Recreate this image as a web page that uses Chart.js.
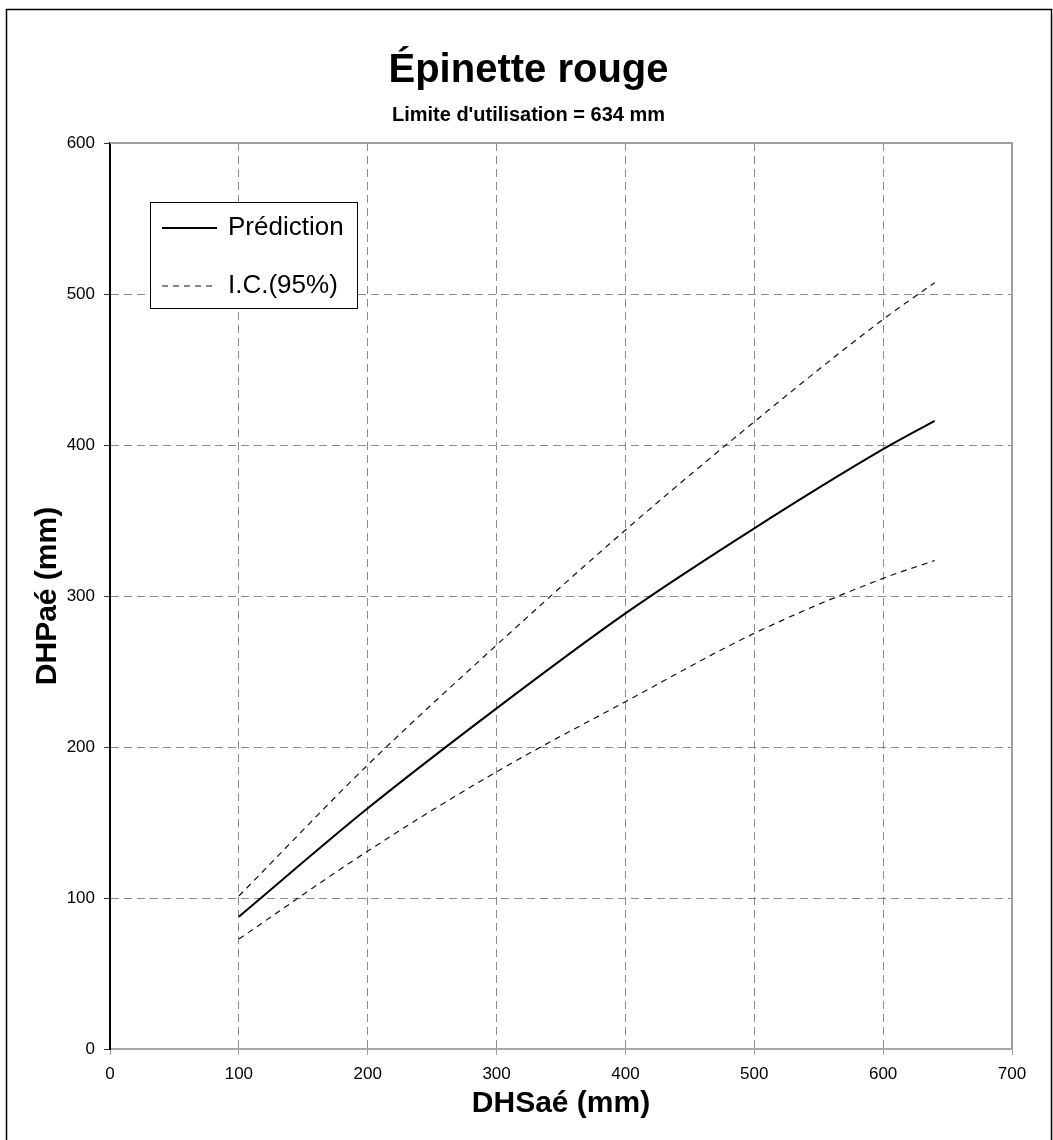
<!DOCTYPE html>
<html><head><meta charset="utf-8">
<script src="https://cdn.jsdelivr.net/npm/chart.js@4.4.1/dist/chart.umd.min.js"></script>
<style>html,body{margin:0;padding:0;background:#fff}#wrap{width:1053px;height:1140px;position:relative}</style>
</head><body><div id="wrap"><canvas id="c" width="1053" height="1140"></canvas></div>
<script>
const xValues = [100, 200, 300, 400, 500, 600, 640];
const prediction = [87.6, 159.4, 225.6, 288.5, 344.8, 397.2, 416.0];
const upperCI = [101.3, 188.1, 267.5, 343.7, 415.4, 483.2, 507.5];
const lowerCI = [72.8, 131.1, 183.6, 230.0, 275.3, 311.7, 323.5];
const seriesLabels = ['Prédiction', 'I.C.(95%)'];
const chartTitle = 'Épinette rouge';
const chartSubtitle = "Limite d'utilisation = 634 mm";
const xAxisTitle = 'DHSaé (mm)';
const yAxisTitle = 'DHPaé (mm)';

const FONT = '"Liberation Sans", Arial, sans-serif';
const toPts = ys => xValues.map((x, i) => ({x: x, y: ys[i]}));

const framePlugin = {
  id: 'frame',
  beforeDraw(chart) {
    const ctx = chart.ctx;
    ctx.save();
    ctx.fillStyle = '#fff';
    ctx.fillRect(0, 0, chart.width, chart.height);
    ctx.strokeStyle = '#000';
    ctx.lineWidth = 1.5;
    ctx.strokeRect(6.5, 9.5, 1045, 1150);
    ctx.restore();
  },
  beforeDatasetsDraw(chart) {
    const {ctx, chartArea: a} = chart;
    ctx.save();
    ctx.strokeStyle = '#a0a0a0';
    ctx.lineWidth = 2;
    ctx.beginPath();
    ctx.moveTo(a.left, a.top);
    ctx.lineTo(a.right, a.top);
    ctx.lineTo(a.right, a.bottom);
    ctx.stroke();
    ctx.restore();
  },
  afterDatasetsDraw(chart) {
    const ctx = chart.ctx;
    const ds = chart.data.datasets;
    ctx.save();
    ctx.fillStyle = '#fff';
    ctx.fillRect(150, 202, 208, 107);
    ctx.strokeStyle = '#000';
    ctx.lineWidth = 1;
    ctx.strokeRect(150.5, 202.5, 207, 106);
    const entries = [{d: ds[0], y: 228}, {d: ds[1], y: 286}];
    entries.forEach(e => {
      ctx.strokeStyle = e.d.borderColor;
      ctx.lineWidth = e.d.borderWidth;
      ctx.setLineDash(e.d.borderDash || []);
      ctx.beginPath();
      ctx.moveTo(162, e.y);
      ctx.lineTo(217, e.y);
      ctx.stroke();
      ctx.setLineDash([]);
      ctx.fillStyle = '#000';
      ctx.font = '26px ' + FONT;
      ctx.textBaseline = 'middle';
      ctx.textAlign = 'left';
      ctx.fillText(e.d.label, 228, e.y);
    });
    ctx.restore();
  }
};

new Chart(document.getElementById('c'), {
  type: 'line',
  data: {
    datasets: [
      {label: seriesLabels[0], data: toPts(prediction), borderColor: '#000', borderWidth: 2, pointRadius: 0, cubicInterpolationMode: 'monotone', fill: false},
      {label: seriesLabels[1], data: toPts(upperCI), borderColor: '#111', borderWidth: 1.2, borderDash: [6, 5], pointRadius: 0, cubicInterpolationMode: 'monotone', fill: false},
      {label: seriesLabels[1], data: toPts(lowerCI), borderColor: '#111', borderWidth: 1.2, borderDash: [6, 5], pointRadius: 0, cubicInterpolationMode: 'monotone', fill: false}
    ]
  },
  options: {
    responsive: false,
    animation: false,
    devicePixelRatio: 1,
    layout: {padding: {left: 4, right: 0, top: 0, bottom: 0}},
    plugins: {
      legend: {display: false},
      tooltip: {enabled: false},
      title: {display: true, text: chartTitle, color: '#000', font: {family: FONT, size: 40, weight: 'bold'}, padding: {top: 47, bottom: 8}},
      subtitle: {display: true, text: chartSubtitle, color: '#000', font: {family: FONT, size: 20, weight: 'bold'}, padding: {top: 0, bottom: 16}}
    },
    scales: {
      x: {
        type: 'linear', min: 0, max: 700,
        ticks: {stepSize: 100, color: '#000', font: {family: FONT, size: 17}, padding: 9, maxRotation: 0},
        grid: {color: '#8c8c8c', lineWidth: 1, tickLength: 6, tickColor: '#a0a0a0'},
        border: {display: true, color: '#a8a8a8', width: 2, dash: [8, 5]},
        title: {display: true, text: xAxisTitle, color: '#000', font: {family: FONT, size: 30, weight: 'bold'}, padding: {top: 0, bottom: 18}},
        afterFit(s) { s.height = 91; }
      },
      y: {
        type: 'linear', min: 0, max: 600,
        ticks: {stepSize: 100, color: '#000', font: {family: FONT, size: 17}, padding: 9},
        grid: {color: '#8c8c8c', lineWidth: 1, tickLength: 6, tickColor: '#333'},
        border: {display: true, color: '#000', width: 2, dash: [8, 5]},
        title: {display: true, text: yAxisTitle, color: '#000', font: {family: FONT, size: 30, weight: 'bold'}, padding: {top: 26, bottom: 0}},
        afterFit(s) { s.width = 106; }
      },
      yRight: {
        type: 'linear', position: 'right', min: 0, max: 600, display: true,
        ticks: {display: false},
        grid: {display: false, drawTicks: false},
        border: {display: false},
        afterFit(s) { s.width = 41; }
      }
    }
  },
  plugins: [framePlugin]
});
</script>
</body></html>
